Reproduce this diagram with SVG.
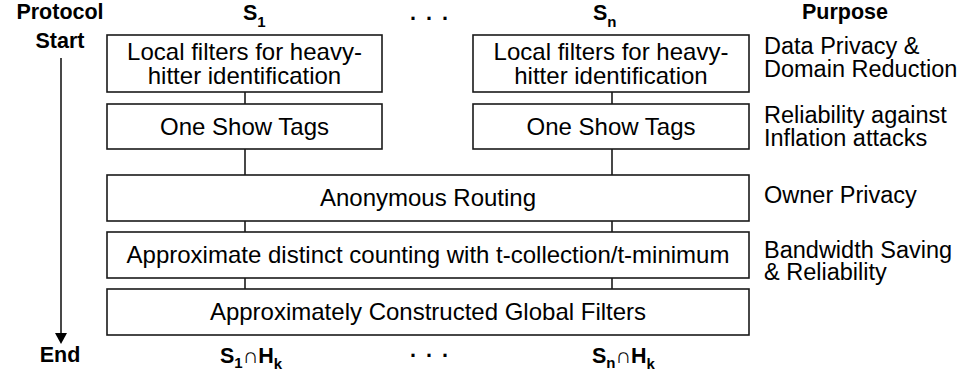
<svg xmlns="http://www.w3.org/2000/svg" width="966" height="377" viewBox="0 0 966 377">
<style>
.box{fill:#fff;stroke:#1a1a1a;stroke-width:1.6}
.t{font-family:"Liberation Sans",Arial,Helvetica,sans-serif;font-size:24px;fill:#000}
.p{font-family:"Liberation Sans",Arial,Helvetica,sans-serif;font-size:23.5px;fill:#000}
.c{text-anchor:middle}
.b{font-family:"Liberation Sans",Arial,Helvetica,sans-serif;font-size:21.5px;font-weight:bold;fill:#000}
.sub{font-size:15px}
.conn{stroke:#1a1a1a;stroke-width:1.6;fill:none}
</style>
<rect width="966" height="377" fill="#fff"/>
<g id="headers">
<text class="b c" x="60" y="19">Protocol</text>
<text class="b c" x="60" y="48">Start</text>
<text class="b" x="243" y="20">S<tspan class="sub" dy="7">1</tspan></text>
<text class="b" x="410" y="20" letter-spacing="2">. . .</text>
<text class="b" x="593" y="20">S<tspan class="sub" dy="7">n</tspan></text>
<text class="b c" x="845" y="19">Purpose</text>
</g>
<g id="footers">
<text class="b c" x="60" y="362">End</text>
<text class="b" x="220" y="363">S<tspan class="sub" dy="5">1</tspan><tspan dy="-5">∩H</tspan><tspan class="sub" dy="6">k</tspan></text>
<text class="b" x="410" y="357" letter-spacing="2">. . .</text>
<text class="b" x="592" y="363">S<tspan class="sub" dy="5">n</tspan><tspan dy="-5">∩H</tspan><tspan class="sub" dy="6">k</tspan></text>
</g>
<g id="connectors">
<line class="conn" x1="61" y1="58" x2="61" y2="334"/>
<polygon points="55,333 67,333 61,344" fill="#000"/>
<line class="conn" x1="245" y1="92" x2="245" y2="104"/>
<line class="conn" x1="612" y1="92" x2="612" y2="104"/>
<line class="conn" x1="245" y1="149" x2="245" y2="175"/>
<line class="conn" x1="612" y1="149" x2="612" y2="175"/>
<line class="conn" x1="245" y1="221" x2="245" y2="232"/>
<line class="conn" x1="612" y1="221" x2="612" y2="232"/>
<line class="conn" x1="245" y1="278" x2="245" y2="289"/>
<line class="conn" x1="612" y1="278" x2="612" y2="289"/>
</g>
<g id="filter1">
<rect class="box" x="107" y="35" width="275" height="57"/>
<text class="t c" x="244.5" y="60">Local filters for heavy-</text>
<text class="t c" x="244.5" y="84">hitter identification</text>
</g>
<g id="filterN">
<rect class="box" x="473" y="35" width="276" height="57"/>
<text class="t c" x="611" y="60">Local filters for heavy-</text>
<text class="t c" x="611" y="84">hitter identification</text>
</g>
<g id="tags1">
<rect class="box" x="107" y="104" width="275" height="45"/>
<text class="t c" x="244.5" y="135">One Show Tags</text>
</g>
<g id="tagsN">
<rect class="box" x="473" y="104" width="276" height="45"/>
<text class="t c" x="611" y="135">One Show Tags</text>
</g>
<g id="routing">
<rect class="box" x="107" y="175" width="642" height="46"/>
<text class="t c" x="428" y="206">Anonymous Routing</text>
</g>
<g id="counting">
<rect class="box" x="107" y="232" width="642" height="46"/>
<text class="t c" x="428" y="263">Approximate distinct counting with t-collection/t-minimum</text>
</g>
<g id="global">
<rect class="box" x="107" y="289" width="642" height="46"/>
<text class="t c" x="428" y="320">Approximately Constructed Global Filters</text>
</g>
<g id="purposes">
<text class="p" x="764" y="54">Data Privacy &amp;</text>
<text class="p" x="764" y="77">Domain Reduction</text>
<text class="p" x="764" y="123">Reliability against</text>
<text class="p" x="764" y="146">Inflation attacks</text>
<text class="p" x="764" y="203">Owner Privacy</text>
<text class="p" x="764" y="258">Bandwidth Saving</text>
<text class="p" x="764" y="280">&amp; Reliability</text>
</g>
</svg>
